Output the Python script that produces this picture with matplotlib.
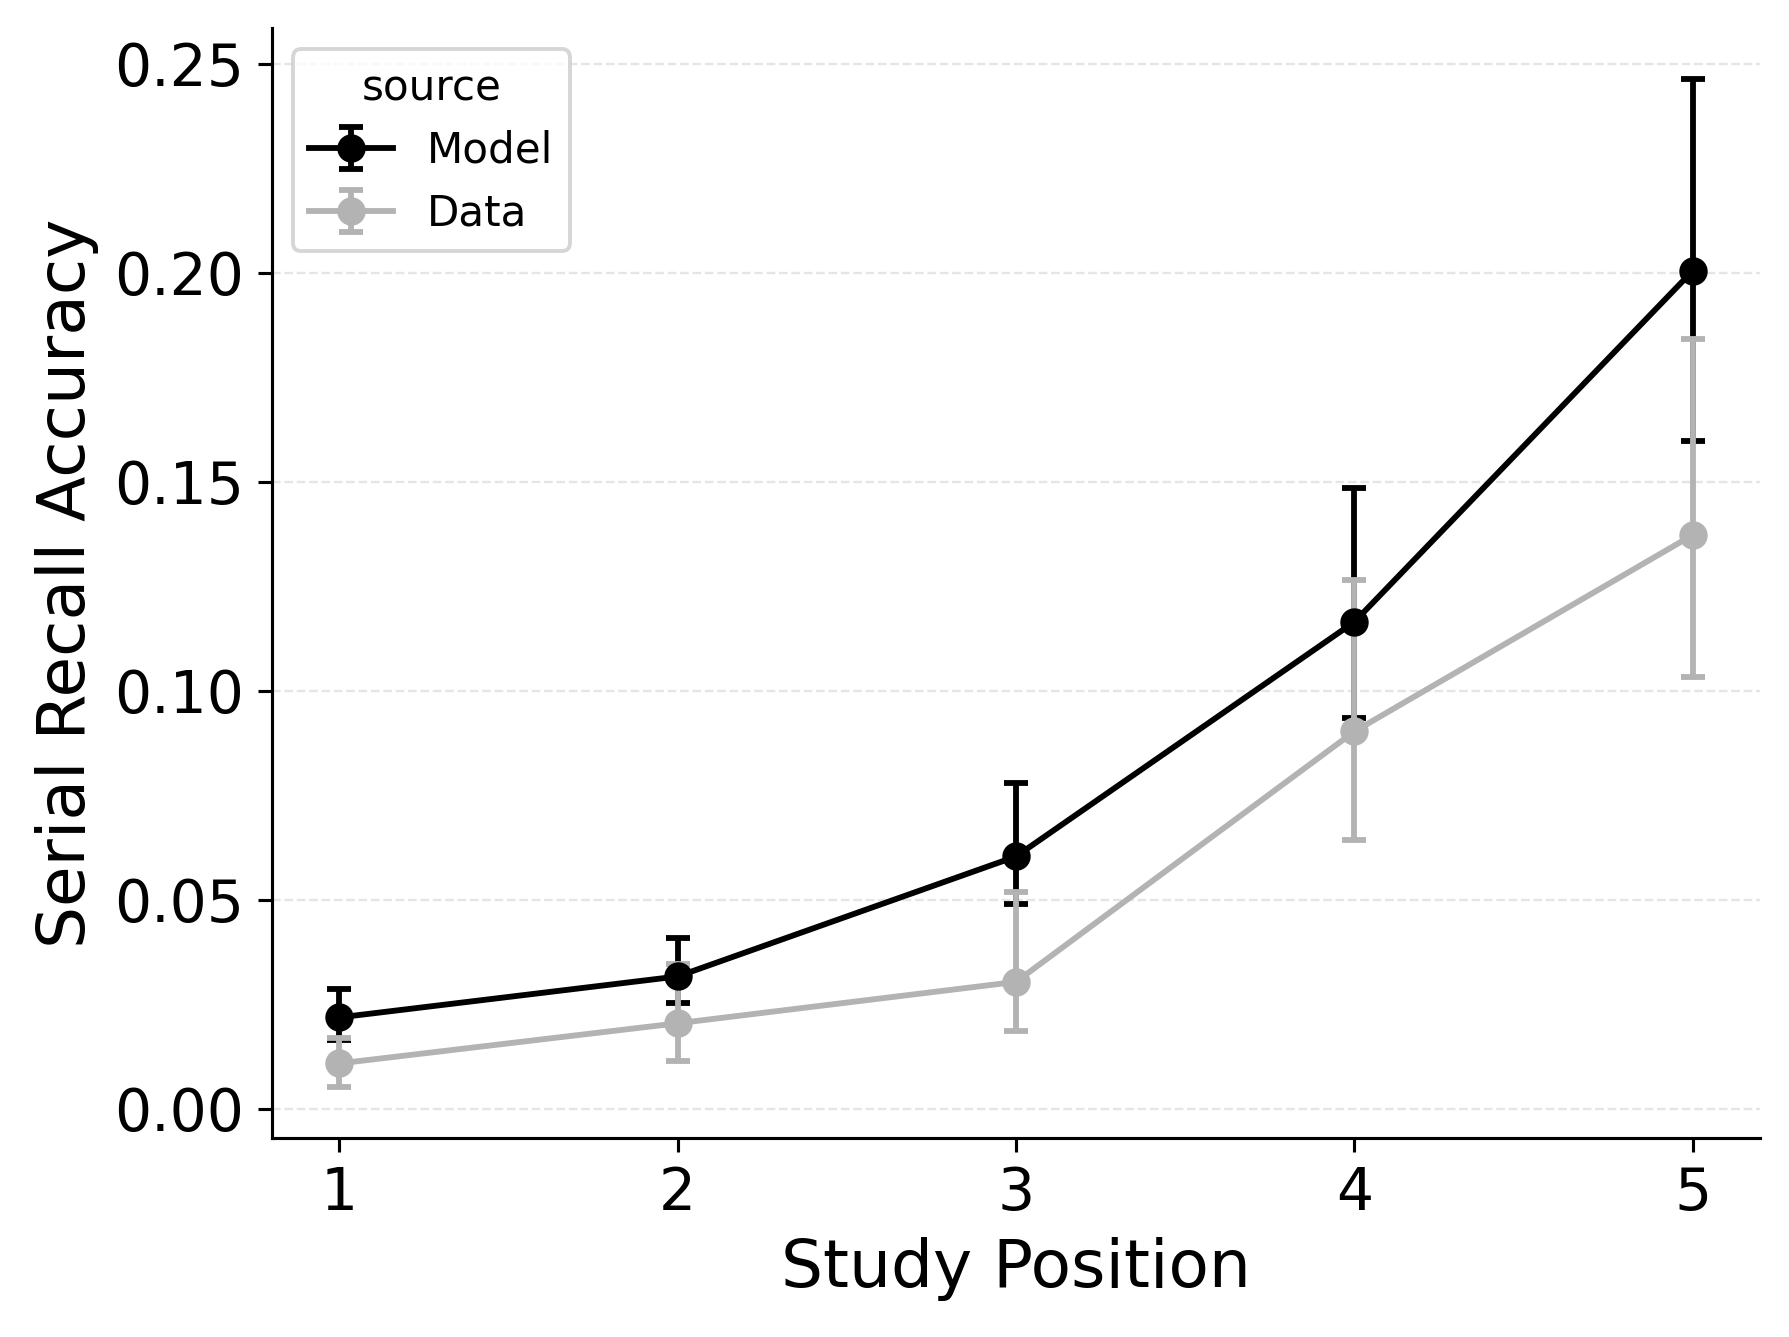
import matplotlib
matplotlib.use("Agg")
import matplotlib.pyplot as plt
import numpy as np

positions = [1, 2, 3, 4, 5]

model_mean = [0.0219, 0.0317, 0.0604, 0.1165, 0.2005]
model_low = [0.0164, 0.0254, 0.0490, 0.0935, 0.1597]
model_high = [0.0287, 0.0410, 0.0780, 0.1485, 0.2464]

data_mean = [0.0109, 0.0205, 0.0304, 0.0903, 0.1373]
data_low = [0.0052, 0.0115, 0.0186, 0.0643, 0.1034]
data_high = [0.0170, 0.0347, 0.0520, 0.1266, 0.1841]

series = [
    ("Model", model_mean, model_low, model_high, "black"),
    ("Data", data_mean, data_low, data_high, "#b3b3b3"),
]

fig = plt.figure(figsize=(1789 / 280, 1337 / 280), dpi=280)
ax = fig.add_axes([0.1518, 0.1491, 0.984 - 0.1518, 0.9787 - 0.1491])

for name, mean, low, high, color in series:
    mean = np.array(mean)
    yerr = [mean - np.array(low), np.array(high) - mean]
    ax.errorbar(positions, mean, yerr=yerr, color=color, marker="o",
                markersize=6.3, linewidth=1.5, elinewidth=1.5,
                capsize=3.2, capthick=1.5, label=name)

ax.set_xticks(positions)
ax.set_yticks([0.0, 0.05, 0.10, 0.15, 0.20, 0.25])
ax.yaxis.set_major_formatter(matplotlib.ticker.FormatStrFormatter("%.2f"))
ax.tick_params(labelsize=15)
ax.set_xlabel("Study Position", fontsize=17)
ax.set_ylabel("Serial Recall Accuracy", fontsize=17)
ax.grid(axis="y", linestyle="--", color="#e5e5e5", linewidth=0.6)
ax.set_axisbelow(True)
ax.spines["top"].set_visible(False)
ax.spines["right"].set_visible(False)

ax.legend(title="source", loc="upper left", fontsize=10.8, title_fontsize=10.8)

fig.savefig("out.png", dpi=280)
